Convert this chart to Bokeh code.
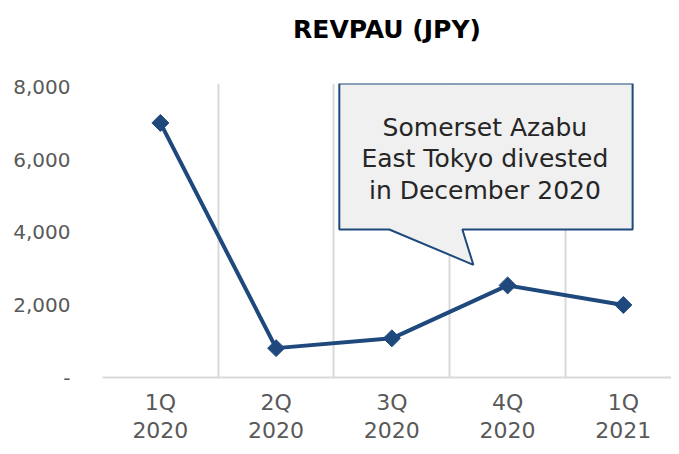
import math
from bokeh.plotting import figure
from bokeh.models import Range1d, FixedTicker, NumeralTickFormatter, Label, Title
from bokeh.embed import file_html
from bokeh.resources import INLINE

quarters = ["1Q\n2020", "2Q\n2020", "3Q\n2020", "4Q\n2020", "1Q\n2021"]
revpau = [7020, 810, 1080, 2540, 2000]
y_ticks = [0, 2000, 4000, 6000, 8000]
chart_title = "REVPAU (JPY)"
note = "Somerset Azabu\nEast Tokyo divested\nin December 2020"

xs = list(range(1, len(quarters) + 1))
FONT = "DejaVu Sans"
BLUE = "#1F497D"

p = figure(width=671, height=446, output_backend="svg", toolbar_location=None,
           x_range=Range1d(0.5, 5.416), y_range=Range1d(0, 8108),
           min_border_left=102, min_border_right=0, min_border_top=83, min_border_bottom=63)
p.outline_line_color = None
p.background_fill_color = "white"
p.border_fill_color = "white"

# spacer between frame and title
p.add_layout(Title(text=" ", text_font_size="10px", standoff=22), "above")

p.title.text = chart_title
p.title.align = "center"
p.title.text_font = FONT
p.title.text_font_style = "bold"
p.title.text_font_size = "25px"
p.title.text_color = "#000000"
p.title.standoff = 10

# grids
p.ygrid.grid_line_color = None
p.xgrid.ticker = FixedTicker(ticks=[0.5, 1.5, 2.5, 3.5, 4.5, 5.5])
p.xgrid.grid_line_color = "#D9D9D9"
p.xgrid.grid_line_width = 2

# x axis
p.xaxis.ticker = FixedTicker(ticks=xs)
p.xaxis.major_label_overrides = {x: q for x, q in zip(xs, quarters)}
p.xaxis.axis_line_color = "#D9D9D9"
p.xaxis.axis_line_width = 2
p.xaxis.major_tick_line_color = None
p.xaxis.major_tick_out = 0
p.xaxis.major_tick_in = 0
p.xaxis.minor_tick_line_color = None
p.xaxis.minor_tick_out = 0
p.xaxis.major_label_text_font = FONT
p.xaxis.major_label_text_font_size = "22px"
p.xaxis.major_label_text_line_height = 1.15
p.xaxis.major_label_text_color = "#595959"
p.xaxis.major_label_standoff = 12

# y axis
p.yaxis.ticker = FixedTicker(ticks=y_ticks)
p.yaxis.formatter = NumeralTickFormatter(format="0,0")
p.yaxis.major_label_overrides = {0: "-"}
p.yaxis.axis_line_color = None
p.yaxis.major_tick_line_color = None
p.yaxis.major_tick_out = 0
p.yaxis.major_tick_in = 0
p.yaxis.minor_tick_line_color = None
p.yaxis.minor_tick_out = 0
p.yaxis.major_label_text_font = FONT
p.yaxis.major_label_text_font_size = "20px"
p.yaxis.major_label_text_color = "#595959"
p.yaxis.major_label_standoff = 32

# data
p.line(xs, revpau, line_color=BLUE, line_width=4)
p.scatter(xs, revpau, marker="square", size=12, angle=math.pi / 4,
          fill_color=BLUE, line_color=BLUE)

# callout
call_x = [2.546, 5.08, 5.08, 3.609, 3.704, 2.978, 2.546]
call_y = [8108, 8108, 4081, 4081, 3108, 4081, 4081]
p.patch(call_x, call_y, fill_color="#F0F0F0", line_color=BLUE, line_width=2)
p.add_layout(Label(x=3.804, y=6027, text=note, text_align="center", text_baseline="middle",
                   text_font=FONT, text_font_size="25px", text_color="#262626",
                   text_line_height=1.1))

open("out.html", "w").write(file_html(p, INLINE))
